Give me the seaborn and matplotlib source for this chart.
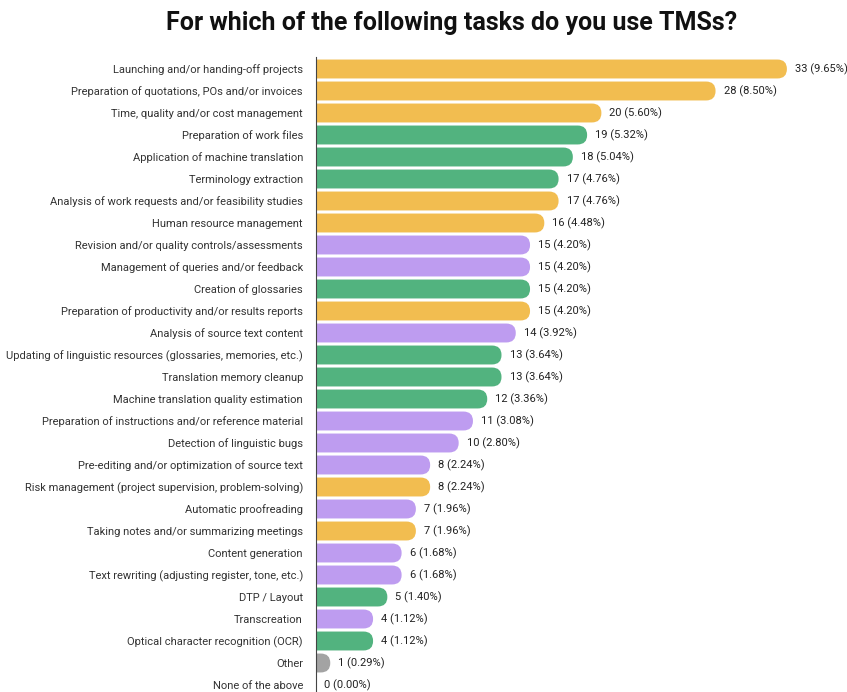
import matplotlib
matplotlib.use("Agg")
import matplotlib.pyplot as plt
import seaborn as sns
import pandas as pd
from matplotlib.patches import FancyBboxPatch

categories = [
    "Launching and/or handing-off projects",
    "Preparation of quotations, POs and/or invoices",
    "Time, quality and/or cost management",
    "Preparation of work files",
    "Application of machine translation",
    "Terminology extraction",
    "Analysis of work requests and/or feasibility studies",
    "Human resource management",
    "Revision and/or quality controls/assessments",
    "Management of queries and/or feedback",
    "Creation of glossaries",
    "Preparation of productivity and/or results reports",
    "Analysis of source text content",
    "Updating of linguistic resources (glossaries, memories, etc.)",
    "Translation memory cleanup",
    "Machine translation quality estimation",
    "Preparation of instructions and/or reference material",
    "Detection of linguistic bugs",
    "Pre-editing and/or optimization of source text",
    "Risk management (project supervision, problem-solving)",
    "Automatic proofreading",
    "Taking notes and/or summarizing meetings",
    "Content generation",
    "Text rewriting (adjusting register, tone, etc.)",
    "DTP / Layout",
    "Transcreation",
    "Optical character recognition (OCR)",
    "Other",
    "None of the above",
]
counts = [33, 28, 20, 19, 18, 17, 17, 16, 15, 15, 15, 15, 14, 13, 13, 12,
          11, 10, 8, 8, 7, 7, 6, 6, 5, 4, 4, 1, 0]
percents = [9.65, 8.50, 5.60, 5.32, 5.04, 4.76, 4.76, 4.48, 4.20, 4.20, 4.20,
            4.20, 3.92, 3.64, 3.64, 3.36, 3.08, 2.80, 2.24, 2.24, 1.96, 1.96,
            1.68, 1.68, 1.40, 1.12, 1.12, 0.29, 0.00]
groups = ["M", "M", "M", "T", "T", "T", "M", "M", "L", "L", "T", "M", "L",
          "T", "T", "T", "L", "L", "L", "M", "L", "M", "L", "L", "T", "L",
          "T", "O", "O"]
palette = {"M": "#F2BD50", "T": "#52B37F", "L": "#BE9CF0", "O": "#A3A3A3"}

df = pd.DataFrame({"cat": categories, "n": counts, "grp": groups})

W, H = 847, 692
fig = plt.figure(figsize=(W / 100, H / 100), dpi=100)
sns.set_style("white")
plt.rcParams["font.family"] = ["Roboto", "DejaVu Sans"]

ax_left = 316 / W
ax_right = 846 / W
ax_top = 1 - 57 / H
ax_bottom = 0.0
ax = fig.add_axes([ax_left, ax_bottom, ax_right - ax_left, ax_top - ax_bottom])

bw = 0.86
sns.barplot(data=df, y="cat", x="n", hue="grp", palette=palette, orient="h",
            dodge=False, width=bw, legend=False, ax=ax, saturation=1)

ax.set_xlim(0, (846 - 316) / 14.27)
row_px = 22.0
top_rows = (69 - 57) / row_px
bot_rows = (692 - 69) / row_px
ax.set_ylim(bot_rows, -top_rows)

fig.canvas.draw()
x_ppu = ax.transData.transform((1, 0))[0] - ax.transData.transform((0, 0))[0]
y_ppu = abs(ax.transData.transform((0, 1))[1] - ax.transData.transform((0, 0))[1])

for p in list(ax.patches):
    w = p.get_width()
    y = p.get_y()
    h = p.get_height()
    if w != w or h == 0:
        continue
    fc = p.get_facecolor()
    p.set_visible(False)
    if w <= 0:
        continue
    r_px = h * y_ppu / 2
    r_data_x = r_px / x_ppu
    x0 = -r_data_x * 1.2
    width = w - x0
    fb = FancyBboxPatch((x0, y), width, h,
                        boxstyle=f"round,pad=0,rounding_size={r_data_x}",
                        mutation_aspect=(h / 2) / r_data_x,
                        facecolor=fc, edgecolor="none", clip_on=True)
    ax.add_patch(fb)

for i, (n, pc) in enumerate(zip(counts, percents)):
    ax.text(n + 8 / x_ppu, i, f"{n} ({pc:.2f}%)", va="center", ha="left",
            fontsize=8.0, color="#222222")

ax.set_xlabel("")
ax.set_ylabel("")
ax.set_xticks([])
ax.tick_params(axis="y", length=0, pad=9.4, labelsize=8.0, labelcolor="#333333")
for s in ["top", "right", "bottom"]:
    ax.spines[s].set_visible(False)
ax.spines["left"].set_color("#444444")
ax.spines["left"].set_linewidth(0.8)

fig.text(452 / W, 1 - 23 / H, "For which of the following tasks do you use TMSs?",
         ha="center", va="center", fontsize=18, fontweight="bold", color="#111111",
         family=["Roboto", "DejaVu Sans"])

fig.savefig("out.png", dpi=100)
